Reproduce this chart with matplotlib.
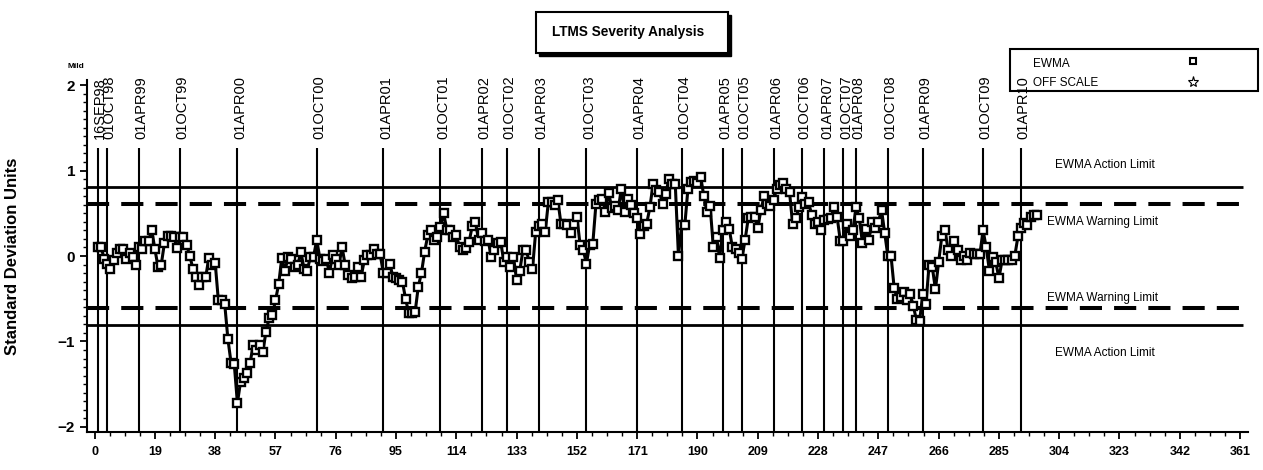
import matplotlib
matplotlib.use('Agg')
import matplotlib.pyplot as plt
import numpy as np
from matplotlib.lines import Line2D
from matplotlib.patches import Rectangle

# EWMA values, one per test
ewma = [
    0.11, 0.11, -0.03, -0.09, -0.15, -0.05, 0.03, 0.08, 0.08, -0.04,
    0.03, -0.01, -0.10, 0.11, 0.08, 0.17, 0.18, 0.30, 0.08, -0.13,
    -0.10, 0.15, 0.23, 0.23, 0.22, 0.09, 0.22, 0.22, 0.13, 0.00,
    -0.15, -0.24, -0.34, -0.24, -0.25, -0.02, -0.11, -0.08, -0.52, -0.52,
    -0.56, -0.97, -1.25, -1.26, -1.72, -1.47, -1.43, -1.37, -1.25, -1.04,
    -1.10, -1.04, -1.12, -0.89, -0.73, -0.69, -0.52, -0.33, -0.02, -0.17,
    -0.01, -0.03, -0.13, -0.11, 0.05, -0.15, -0.17, -0.01, -0.01, 0.19,
    -0.03, -0.06, -0.03, -0.20, 0.01, -0.04, -0.10, 0.10, -0.11, -0.22,
    -0.26, -0.24, -0.13, -0.24, -0.05, 0.01, 0.01, 0.08, 0.02, 0.02,
    -0.20, -0.20, -0.09, -0.24, -0.26, -0.28, -0.30, -0.50, -0.67, -0.67,
    -0.66, -0.36, -0.20, 0.05, 0.24, 0.30, 0.19, 0.22, 0.34, 0.50,
    0.31, 0.30, 0.22, 0.24, 0.11, 0.07, 0.09, 0.16, 0.35, 0.40,
    0.19, 0.27, 0.17, 0.19, -0.01, 0.07, 0.15, 0.16, -0.07, -0.01,
    -0.13, -0.01, -0.28, -0.17, 0.07, 0.07, -0.07, -0.15, 0.28, 0.35,
    0.37, 0.28, 0.63, 0.63, 0.60, 0.65, 0.37, 0.37, 0.36, 0.27,
    0.38, 0.46, 0.13, 0.07, -0.09,
    0.13, 0.14, 0.61, 0.65, 0.67, 0.52, 0.74, 0.56, 0.58, 0.54,
    0.79, 0.52, 0.67, 0.60, 0.50, 0.44, 0.26, 0.35, 0.38, 0.57,
    0.84, 0.77, 0.75, 0.61, 0.73, 0.90, 0.84, 0.84, 0.00, 0.36,
    0.36, 0.79, 0.87, 0.88, 0.85, 0.93, 0.70, 0.52, 0.58, 0.10,
    0.22, -0.02, 0.30, 0.40, 0.32, 0.10, 0.08, 0.03, -0.03, 0.19,
    0.44, 0.46, 0.46, 0.33, 0.54, 0.70, 0.61, 0.58, 0.66, 0.79,
    0.83, 0.86, 0.79, 0.75, 0.37, 0.44, 0.57, 0.69, 0.61, 0.63,
    0.48, 0.37, 0.40, 0.31, 0.42, 0.43, 0.44, 0.57, 0.46, 0.18,
    0.17, 0.37, 0.23, 0.31, 0.57, 0.44, 0.15, 0.32, 0.19, 0.40,
    0.33, 0.40, 0.54, 0.27, 0.00, 0.00, -0.38, -0.50, -0.48, -0.42,
    -0.51, -0.44, -0.58, -0.75, -0.76, -0.45, -0.56, -0.10, -0.13, -0.39,
    -0.07, 0.23, 0.30, 0.07, 0.00, 0.17, 0.07, -0.05, 0.00, -0.05,
    0.03, 0.02, 0.02, 0.02, 0.30, 0.10, -0.17, -0.01, -0.07, -0.26,
    -0.05, -0.05, -0.05, -0.05, 0.00, 0.23, 0.33, 0.39, 0.36, 0.46,
    0.48, 0.48,
]
tests = np.arange(1, len(ewma) + 1)

date_tests = [1, 4, 14, 27, 45, 70, 91, 109, 122, 130, 140, 155, 171,
              185, 198, 204, 214, 223, 230, 236, 240, 250, 261, 280, 292]
date_labels = ['16SEP98', '01OCT98', '01APR99', '01OCT99', '01APR00',
               '01OCT00', '01APR01', '01OCT01', '01APR02', '01OCT02',
               '01APR03', '01OCT03', '01APR04', '01OCT04', '01APR05',
               '01OCT05', '01APR06', '01OCT06', '01APR07', '01OCT07',
               '01APR08', '01OCT08', '01APR09', '01OCT09', '01APR10']

action_limit = 0.81
warning_limit = 0.605

sans = ['Liberation Sans', 'DejaVu Sans']

W, H = 1263, 470
fig = plt.figure(figsize=(W / 100, H / 100), dpi=100)
ax = fig.add_axes([87 / W, 38 / H, (1248 - 87) / W, (432 - 80) / H])

xmin, xmax = -2.4, 363.5
ymin, ymax = -2.06, 2.06
ax.set_xlim(xmin, xmax)
ax.set_ylim(ymin, ymax)

# date reference lines
ax.vlines(date_tests, ymin, 1.26, color='black', lw=1.5, zorder=1)
for t, lab in zip(date_tests, date_labels):
    ax.text(t + 0.8, 1.37, lab, rotation=90, ha='center', va='bottom',
            fontsize=10.5, family=sans, clip_on=False)

# limits
for s in (1, -1):
    ax.hlines(s * action_limit, xmin, 362, color='black', lw=2.0, zorder=1)
    ax.plot([xmin, 362], [s * warning_limit] * 2, color='black', lw=2.9,
            linestyle=(0, (5.5, 3)), zorder=1)

lim_kw = dict(ha='center', va='center', family=sans, fontsize=8.5)
ax.text(318.5, 1.06, 'EWMA Action Limit', **lim_kw)
ax.text(317.5, 0.40, 'EWMA Warning Limit', **lim_kw)
ax.text(317.5, -0.49, 'EWMA Warning Limit', **lim_kw)
ax.text(318.5, -1.14, 'EWMA Action Limit', **lim_kw)

# EWMA series
ax.plot(tests, ewma, '-s', color='black', lw=2.2, ms=5.2, mfc='white',
        mec='black', mew=1.7, zorder=3)

# axes styling
for side in ('top', 'right'):
    ax.spines[side].set_visible(False)
for side in ('left', 'bottom'):
    ax.spines[side].set_linewidth(1.5)

ax.set_xticks(np.arange(0, 362, 19))
ax.set_xticks(np.arange(0, 362, 4.75), minor=True)
ax.set_yticks([-2, -1, 0, 1, 2])
ax.set_yticks(np.arange(-2, 2.01, 0.1), minor=True)
ax.tick_params(which='major', direction='out', length=5, width=1.3)
ax.tick_params(which='minor', direction='out', length=3, width=1.0)
ax.tick_params(axis='x', pad=5)
for lab in ax.get_xticklabels():
    lab.set_family(sans)
    lab.set_fontsize(9)
    lab.set_fontweight('bold')
for lab in ax.get_yticklabels():
    lab.set_family(sans)
    lab.set_fontsize(11)
    lab.set_fontweight('bold')

ax.set_ylabel('Standard Deviation Units', family=sans, fontsize=12,
              fontweight='bold')
ax.yaxis.set_label_coords((20 - 87) / (1248 - 87), 0.5)

fig.text(67 / W, 1 - 67 / H, 'Mild', family=sans, fontsize=6,
         fontweight='bold', va='center')

# title box with drop shadow
fig.patches.append(Rectangle((539 / W, 1 - 56 / H), 192 / W, 41 / H,
                             transform=fig.transFigure, facecolor='black',
                             edgecolor='black', zorder=0))
fig.patches.append(Rectangle((536 / W, 1 - 53 / H), 192 / W, 41 / H,
                             transform=fig.transFigure, facecolor='white',
                             edgecolor='black', lw=1.5, zorder=1))
fig.text(628 / W, 1 - 32 / H, 'LTMS Severity Analysis', ha='center',
         va='center', family=sans, fontsize=9.8, fontweight='bold')

# legend box
fig.patches.append(Rectangle((1010 / W, 1 - 91 / H), 248 / W, 42 / H,
                             transform=fig.transFigure, fill=False,
                             edgecolor='black', lw=1.5))
fig.text(1033 / W, 1 - 64 / H, 'EWMA', family=sans, fontsize=8.5,
         va='center')
fig.text(1033 / W, 1 - 83 / H, 'OFF SCALE', family=sans, fontsize=8.5,
         va='center')
fig.add_artist(Line2D([1193 / W], [1 - 61 / H], marker='s', ms=5,
                      mfc='white', mec='black', mew=1.5,
                      transform=fig.transFigure))
fig.add_artist(Line2D([1193 / W], [1 - 82 / H], marker='*', ms=8,
                      mfc='white', mec='black', mew=0.8,
                      transform=fig.transFigure))

fig.savefig('out.png', dpi=100)
